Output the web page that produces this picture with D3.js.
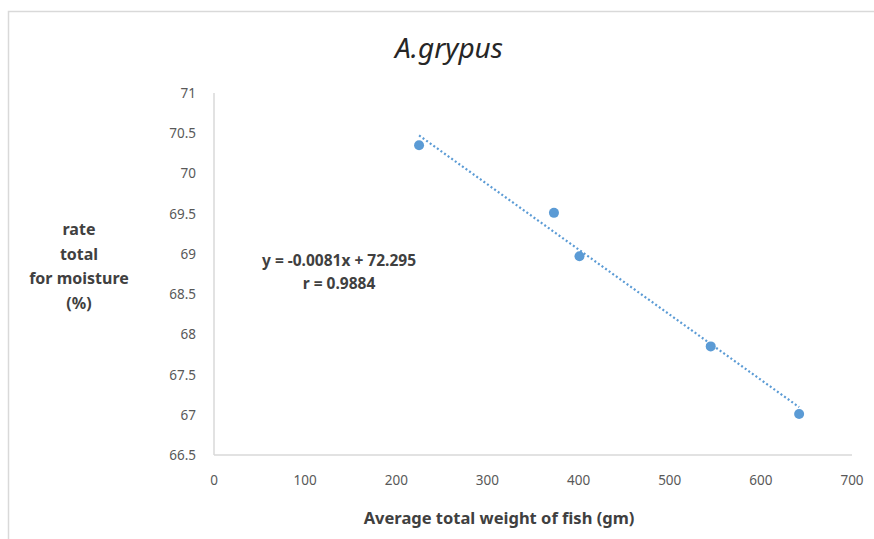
<!DOCTYPE html>
<html>
<head>
<meta charset="utf-8">
<script src="https://cdn.jsdelivr.net/npm/d3@7"></script>
<style>
  body { margin: 0; background: #fff; }
  text { font-family: "Noto Sans", "Open Sans", sans-serif; }
</style>
</head>
<body>
<div id="chart"></div>
<script>
const weights = [225, 373, 401, 545, 642];
const moisture = [70.35, 69.51, 68.97, 67.85, 67.01];
const xTicks = [0, 100, 200, 300, 400, 500, 600, 700];
const yTicks = [66.5, 67, 67.5, 68, 68.5, 69, 69.5, 70, 70.5, 71];
const slope = -0.0081;
const intercept = 72.295;
const eqLines = ["y = -0.0081x + 72.295", "r = 0.9884"];
const yLabelLines = ["rate", "total", "for moisture", "(%)"];

const width = 874, height = 539;
const svg = d3.select("#chart").append("svg").attr("width", width).attr("height", height);

// chart frame
svg.append("path")
    .attr("d", "M8.5," + height + " V11.5 H" + width)
    .attr("fill", "none").attr("stroke", "#d9d9d9").attr("stroke-width", 1.5);

const x = d3.scaleLinear().domain([0, 700]).range([214, 852]);
const y = d3.scaleLinear().domain([66.5, 71]).range([455, 93]);

// axes lines
svg.append("line").attr("x1", x(0)).attr("x2", x(700)).attr("y1", y(66.5)).attr("y2", y(66.5))
    .attr("stroke", "#d9d9d9").attr("stroke-width", 1.5);
svg.append("line").attr("x1", x(0)).attr("x2", x(0)).attr("y1", y(66.5)).attr("y2", y(71))
    .attr("stroke", "#d9d9d9").attr("stroke-width", 1.5);

svg.append("g").selectAll("text").data(xTicks).enter().append("text")
    .attr("x", d => x(d)).attr("y", 485)
    .attr("text-anchor", "middle").attr("fill", "#595959").attr("font-size", 13.5)
    .text(d => d);

svg.append("g").selectAll("text").data(yTicks).enter().append("text")
    .attr("x", 196).attr("y", d => y(d) + 5)
    .attr("text-anchor", "end").attr("fill", "#595959").attr("font-size", 13.5)
    .text(d => d);

// trendline
const xExt = d3.extent(weights);
svg.append("line")
    .attr("x1", x(xExt[0])).attr("y1", y(slope * xExt[0] + intercept))
    .attr("x2", x(xExt[1])).attr("y2", y(slope * xExt[1] + intercept))
    .attr("stroke", "#5b9bd5").attr("stroke-width", 2.2)
    .attr("stroke-dasharray", "2,2.4");

svg.append("g").selectAll("circle").data(weights).enter().append("circle")
    .attr("cx", d => x(d)).attr("cy", (d, i) => y(moisture[i]))
    .attr("r", 5).attr("fill", "#5b9bd5");

// title
svg.append("text").attr("x", 449).attr("y", 58)
    .attr("text-anchor", "middle").attr("font-size", 28).attr("font-style", "italic")
    .attr("fill", "#262626").text("A.grypus");

// equation
svg.append("g").selectAll("text").data(eqLines).enter().append("text")
    .attr("x", 339).attr("y", (d, i) => 266 + i * 23)
    .attr("text-anchor", "middle").attr("font-size", 15.5).attr("font-weight", "bold")
    .attr("fill", "#404040").text(d => d);

// y label
svg.append("g").selectAll("text").data(yLabelLines).enter().append("text")
    .attr("x", 79).attr("y", (d, i) => 235 + i * 24.7)
    .attr("text-anchor", "middle").attr("font-size", 16).attr("font-weight", "bold")
    .attr("fill", "#404040").text(d => d);

// x label
svg.append("text").attr("x", 499).attr("y", 524)
    .attr("text-anchor", "middle").attr("font-size", 16.5).attr("font-weight", "bold")
    .attr("fill", "#404040").text("Average total weight of fish (gm)");
</script>
</body>
</html>
